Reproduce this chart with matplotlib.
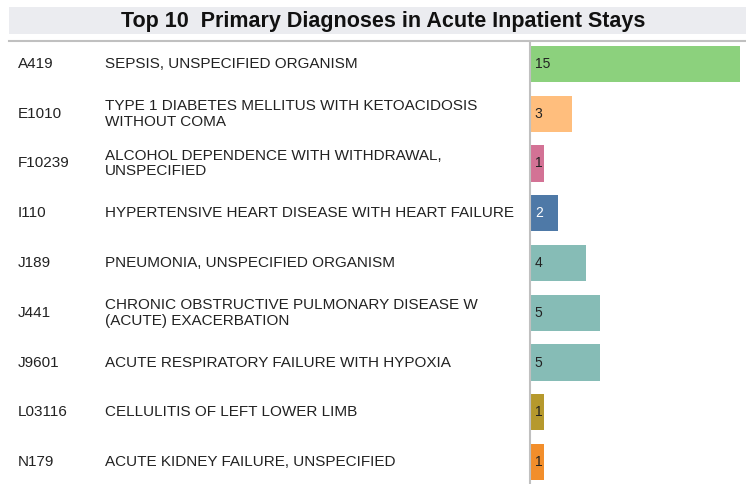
import matplotlib.pyplot as plt
from matplotlib.patches import Rectangle
from matplotlib.lines import Line2D
from matplotlib.transforms import blended_transform_factory

codes = ['A419', 'E1010', 'F10239', 'I110', 'J189', 'J441', 'J9601', 'L03116', 'N179']
descriptions = [
    'SEPSIS, UNSPECIFIED ORGANISM',
    'TYPE 1 DIABETES MELLITUS WITH KETOACIDOSIS\nWITHOUT COMA',
    'ALCOHOL DEPENDENCE WITH WITHDRAWAL,\nUNSPECIFIED',
    'HYPERTENSIVE HEART DISEASE WITH HEART FAILURE',
    'PNEUMONIA, UNSPECIFIED ORGANISM',
    'CHRONIC OBSTRUCTIVE PULMONARY DISEASE W\n(ACUTE) EXACERBATION',
    'ACUTE RESPIRATORY FAILURE WITH HYPOXIA',
    'CELLULITIS OF LEFT LOWER LIMB',
    'ACUTE KIDNEY FAILURE, UNSPECIFIED',
]
counts = [15, 3, 1, 2, 4, 5, 5, 1, 1]
colors = ['#8cd17d', '#ffbe7d', '#d37295', '#4e79a7', '#86bcb6',
          '#86bcb6', '#86bcb6', '#b6992d', '#f28e2b']
label_colors = ['#222222', '#222222', '#222222', 'white', '#222222',
                '#222222', '#222222', '#222222', '#222222']

plt.rcParams['font.family'] = ['Liberation Sans', 'DejaVu Sans']

W, H = 746, 484
fig = plt.figure(figsize=(W / 100, H / 100), dpi=100)

# title band
fig.patches.append(Rectangle((9 / W, 1 - 34 / H), 1 - 9 / W, 27 / H,
                             transform=fig.transFigure, facecolor='#ebecf0',
                             edgecolor='none', zorder=0))
fig.text(383 / W, 1 - 21 / H, 'Top 10  Primary Diagnoses in Acute Inpatient Stays',
         ha='center', va='center', fontsize=15.5, fontweight='bold', color='#111111')
fig.lines.append(Line2D([9 / W, 1], [1 - 40.5 / H, 1 - 40.5 / H], transform=fig.transFigure,
                        color='#c0c0c0', lw=1.5))

ax = fig.add_axes([530 / W, 0, 216 / W, 1 - 42 / H])
y = list(range(len(codes)))
ax.barh(y, counts, height=0.73, color=colors)
ax.set_xlim(0, 15 * 216 / 210)
ax.set_ylim(8.442, -0.442)
ax.set_xticks([])
ax.set_yticks([])
for s in ['top', 'right', 'bottom']:
    ax.spines[s].set_visible(False)
ax.spines['left'].set_color('#c0c0c0')
ax.spines['left'].set_linewidth(1.5)

for i, v in enumerate(counts):
    ax.text(0.35, i, str(v), ha='left', va='center', fontsize=10, color=label_colors[i])

tr = blended_transform_factory(fig.transFigure, ax.transData)
for i in y:
    ax.text(18 / W, i, codes[i], transform=tr, ha='left', va='center',
            fontsize=11, color='#222222', clip_on=False)
    ax.text(105 / W, i, descriptions[i], transform=tr, ha='left', va='center',
            fontsize=11, color='#222222', linespacing=1.15, clip_on=False)

fig.savefig('out.png', dpi=100)
